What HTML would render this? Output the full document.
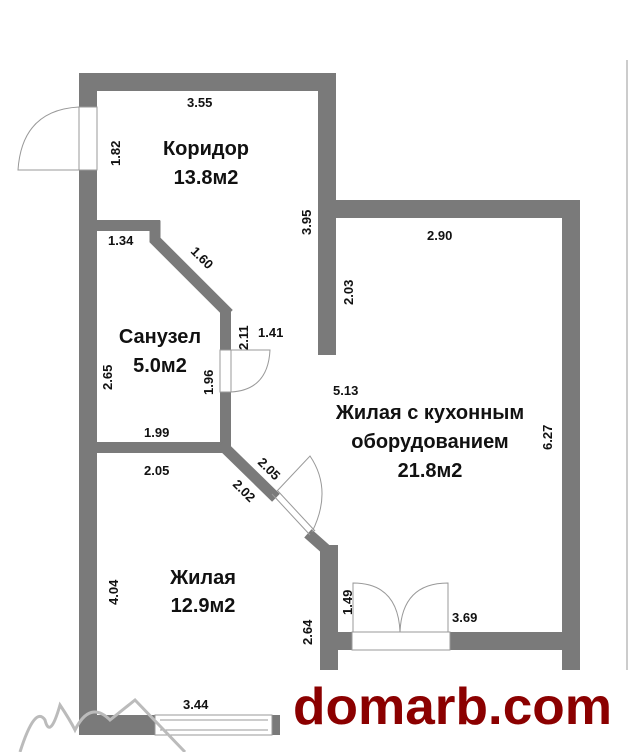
<!DOCTYPE html>
<html><head><meta charset="utf-8"><style>
html,body{margin:0;padding:0;background:#fff;}
svg{display:block}
text{font-family:"Liberation Sans",sans-serif;font-weight:bold;fill:#111}
</style></head><body>
<svg width="630" height="752" viewBox="0 0 630 752">
<g fill="#7a7a7a">
<rect x="79" y="73" width="257" height="18"/>
<rect x="79" y="73" width="18" height="34"/>
<rect x="79" y="170" width="18" height="565"/>
<rect x="318" y="73" width="18" height="282"/>
<rect x="318" y="200" width="262" height="18"/>
<rect x="562" y="200" width="18" height="470"/>
<rect x="450" y="632" width="130" height="18"/>
<rect x="320" y="632" width="32" height="18"/>
<rect x="320" y="545" width="18" height="125"/>
<rect x="97" y="220" width="63" height="11"/>
<rect x="220" y="308" width="11" height="42"/>
<rect x="220" y="392" width="11" height="58"/>
<rect x="97" y="442" width="128" height="11"/>
<rect x="79" y="715" width="76" height="20"/>
<rect x="272" y="715" width="8" height="20"/>
</g>
<g stroke="#7a7a7a" stroke-width="11" fill="none" stroke-linecap="square">
<polyline points="155,226 155,240 225,310"/>
<polyline points="225,448 272,494"/>
<polyline points="312,537 330,553"/>
</g>
<g stroke="#999" stroke-width="1" fill="none">
<rect x="79" y="107" width="18" height="63" fill="#fff"/>
<path d="M79,107 Q22,110 18,170 L79,170"/>
<rect x="220" y="350" width="11" height="42" fill="#fff"/>
<path d="M231,350 L270,350 Q268,390 231,392"/>
<path d="M272,494 L310,535"/>
<path d="M277,490 L315,531"/>
<path d="M278,490 L310,456 Q333,490 312,532"/>
<rect x="352" y="632" width="98" height="18" fill="#fff"/>
<path d="M353,632 L353,583 Q398,583 400,632"/>
<path d="M448,632 L448,583 Q402,583 400,632"/>
<rect x="155" y="715" width="117" height="20" fill="#fff"/>
<line x1="160" y1="720" x2="268" y2="720"/><line x1="160" y1="730" x2="268" y2="730"/>
<line x1="627" y1="60" x2="627" y2="670"/>
</g>
<g font-size="13">
<text x="187" y="107">3.55</text>
<text x="108" y="245">1.34</text>
<text x="427" y="240">2.90</text>
<text x="258" y="337">1.41</text>
<text x="333" y="395">5.13</text>
<text x="144" y="437">1.99</text>
<text x="144" y="475">2.05</text>
<text x="452" y="622">3.69</text>
<text x="183" y="709">3.44</text>
<text transform="translate(120,166) rotate(-90)">1.82</text>
<text transform="translate(311,235) rotate(-90)">3.95</text>
<text transform="translate(353,305) rotate(-90)">2.03</text>
<text transform="translate(248,350) rotate(-90)">2.11</text>
<text transform="translate(112,390) rotate(-90)">2.65</text>
<text transform="translate(213,395) rotate(-90)">1.96</text>
<text transform="translate(552,450) rotate(-90)">6.27</text>
<text transform="translate(118,605) rotate(-90)">4.04</text>
<text transform="translate(312,645) rotate(-90)">2.64</text>
<text transform="translate(352,615) rotate(-90)">1.49</text>
<text transform="translate(257,463) rotate(45)">2.05</text>
<text transform="translate(232,485) rotate(45)">2.02</text>
<text transform="translate(190,252) rotate(45)">1.60</text>
</g>
<g font-size="20" text-anchor="middle">
<text x="206" y="155">Коридор</text>
<text x="206" y="184">13.8м2</text>
<text x="160" y="343">Санузел</text>
<text x="160" y="372">5.0м2</text>
<text x="430" y="419">Жилая с кухонным</text>
<text x="430" y="448">оборудованием</text>
<text x="430" y="477">21.8м2</text>
<text x="203" y="584">Жилая</text>
<text x="203" y="612">12.9м2</text>
</g>
<path d="M20,752 Q35,705 45,720 Q50,740 60,705 Q70,720 75,730 Q90,700 110,720 L135,700 L185,752" stroke="#bbb" stroke-width="3" fill="none"/>
<text x="293" y="724" font-size="52" textLength="319" lengthAdjust="spacingAndGlyphs" style="fill:#8b0000">domarb.com</text>
</svg>
</body></html>
